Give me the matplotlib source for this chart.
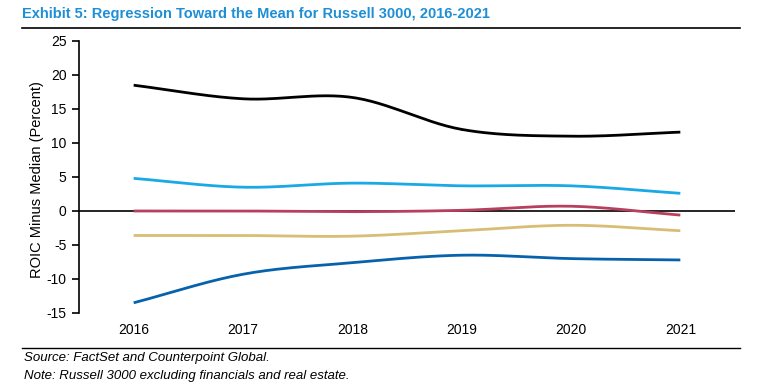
import numpy as np
import matplotlib
matplotlib.use("Agg")
import matplotlib.pyplot as plt
from matplotlib.lines import Line2D

plt.rcParams['font.family'] = ['Liberation Sans', 'DejaVu Sans']

years = [2016, 2017, 2018, 2019, 2020, 2021]
q1 = [18.5, 16.5, 16.7, 12.0, 11.0, 11.6]
q2 = [4.8, 3.5, 4.1, 3.7, 3.7, 2.6]
q3 = [0.0, 0.0, -0.1, 0.1, 0.7, -0.6]
q4 = [-3.6, -3.6, -3.7, -2.9, -2.1, -2.9]
q5 = [-13.5, -9.3, -7.6, -6.5, -7.0, -7.2]
series = [q1, q2, q3, q4, q5]
colors = ["#000000", "#19A9E6", "#B8405E", "#D8BE74", "#0762AC"]
yticks = list(range(-15, 30, 5))


def smooth(x, y, n=30):
    # Catmull-Rom rendering of the line through the data points (display only)
    x = np.asarray(x, float)
    y = np.asarray(y, float)
    px = np.concatenate([[2 * x[0] - x[1]], x, [2 * x[-1] - x[-2]]])
    py = np.concatenate([[2 * y[0] - y[1]], y, [2 * y[-1] - y[-2]]])
    xs, ys = [], []
    t = np.linspace(0, 1, n)
    for i in range(1, len(px) - 2):
        p0, p1, p2, p3 = py[i - 1], py[i], py[i + 1], py[i + 2]
        yy = 0.5 * ((2 * p1) + (-p0 + p2) * t + (2 * p0 - 5 * p1 + 4 * p2 - p3) * t ** 2
                    + (-p0 + 3 * p1 - 3 * p2 + p3) * t ** 3)
        xx = px[i] + (px[i + 1] - px[i]) * t
        xs.append(xx)
        ys.append(yy)
    return np.concatenate(xs), np.concatenate(ys)


fig = plt.figure(figsize=(7.63, 3.90), dpi=100)
ax = fig.add_axes([79 / 763, 1 - 313 / 390, (735 - 79) / 763, (313 - 41) / 390])

ax.axhline(0, color="black", lw=1.2, zorder=1)
for s, c in zip(series, colors):
    xs, ys = smooth(years, s)
    ax.plot(xs, ys, color=c, lw=2.0, solid_capstyle="butt", zorder=2)

ax.set_xlim(2015.5, 2021.5)
ax.set_ylim(-15, 25)
ax.set_yticks(yticks)
ax.set_yticklabels([str(v) for v in yticks], fontsize=10)
ax.set_xticks(years)
ax.set_xticklabels([str(y) for y in years], fontsize=10)
ax.tick_params(axis="x", length=0, pad=7)
ax.tick_params(axis="y", direction="out", length=5, width=1.2, pad=4)
for sp in ["top", "right", "bottom"]:
    ax.spines[sp].set_visible(False)
ax.spines["left"].set_linewidth(1.2)
ax.set_ylabel("ROIC Minus Median (Percent)", fontsize=10.5)
ax.yaxis.label.set_verticalalignment("center")
ax.yaxis.set_label_coords((37 - 79) / 656, 0.49)

fig.text(22 / 763, 1 - 14 / 390, "Exhibit 5: Regression Toward the Mean for Russell 3000, 2016-2021",
         color="#1E8FD5", fontsize=10.5, fontweight="bold", va="center", ha="left")
fig.add_artist(Line2D([22 / 763, 740 / 763], [1 - 28 / 390] * 2, color="black", lw=1.2))
fig.add_artist(Line2D([22 / 763, 740 / 763], [1 - 348 / 390] * 2, color="black", lw=1.0))
fig.text(24 / 763, 1 - 358 / 390, "Source: FactSet and Counterpoint Global.",
         fontsize=9.5, style="italic", va="center", ha="left")
fig.text(24 / 763, 1 - 376 / 390, "Note: Russell 3000 excluding financials and real estate.",
         fontsize=9.5, style="italic", va="center", ha="left")

fig.savefig("out.png", dpi=100)
